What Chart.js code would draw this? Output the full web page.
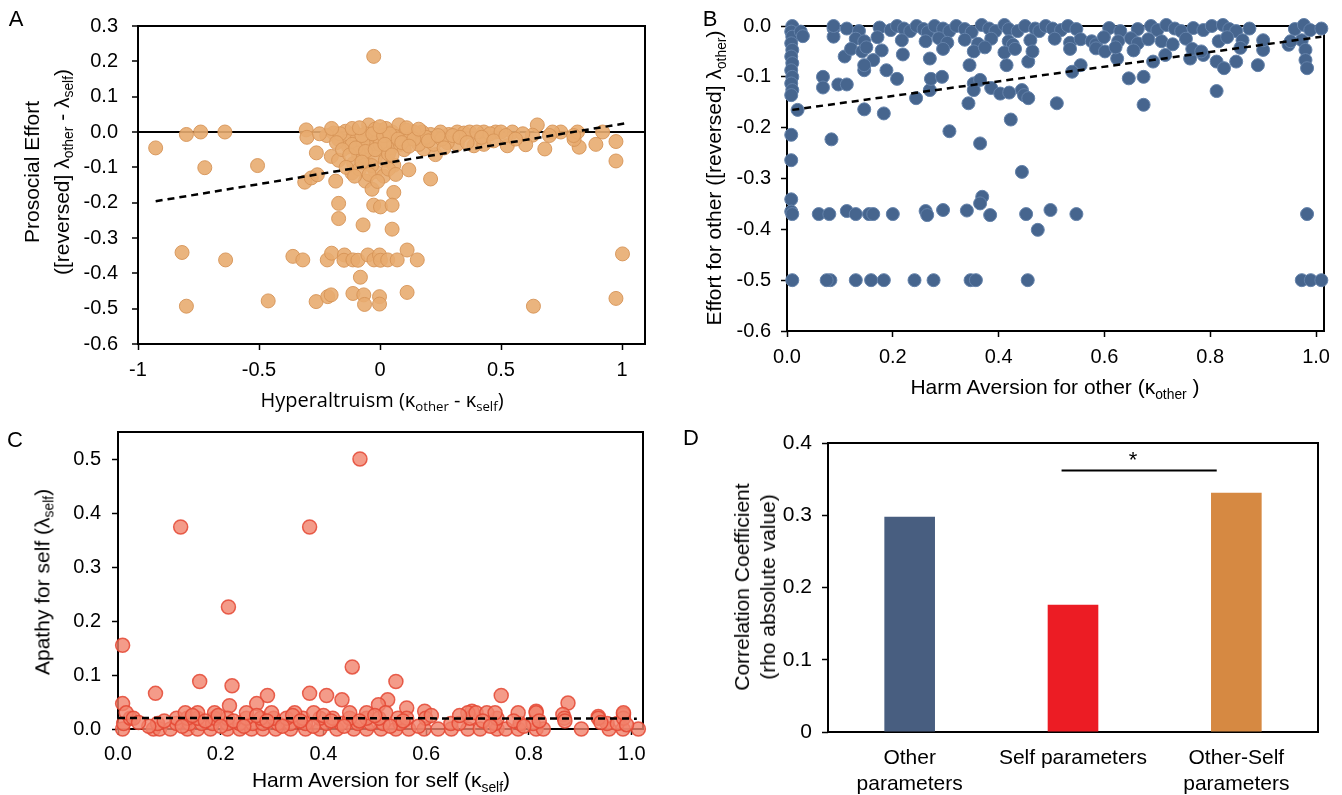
<!DOCTYPE html>
<html>
<head>
<meta charset="utf-8">
<script src="https://cdn.jsdelivr.net/npm/chart.js@4.4.1/dist/chart.umd.min.js"></script>
<style>
  body { margin: 0; background: #fff; width: 1342px; height: 795px; position: relative; overflow: hidden;
         font-family: "Liberation Sans", Arial, sans-serif; color: #000; }
  .panel { position: absolute; }
  .lbl { position: absolute; white-space: nowrap; transform: translate(-50%, -50%); font-size: 21px; line-height: 1.2; text-align: center; }
  .rot { transform: translate(-50%, -50%) rotate(-90deg); }
  .letter { font-size: 22px; }
  sub { font-size: 66%; vertical-align: -0.3em; line-height: 0; }
</style>
</head>
<body>

<div class="panel" style="left:0;top:0"><canvas id="chartA" width="660" height="400"></canvas></div>
<div class="panel" style="left:660px;top:0"><canvas id="chartB" width="682" height="400"></canvas></div>
<div class="panel" style="left:0;top:400px"><canvas id="chartC" width="660" height="395"></canvas></div>
<div class="panel" style="left:660px;top:400px"><canvas id="chartD" width="682" height="395"></canvas></div>

<div class="lbl letter" style="left:16px;top:19px">A</div>
<div class="lbl letter" style="left:710px;top:19px">B</div>
<div class="lbl letter" style="left:15px;top:440px">C</div>
<div class="lbl letter" style="left:691px;top:438px">D</div>

<div class="lbl rot" style="left:47px;top:172px;line-height:30px">Prosocial Effort<br>([reversed] λ<sub>other</sub> - λ<sub>self</sub>)</div>
<div class="lbl" style="left:382px;top:400px;font-family:'Open Sans',sans-serif;font-size:20px">Hyperaltruism (κ<sub>other</sub> - κ<sub>self</sub>)</div>

<div class="lbl rot" style="left:714px;top:178px">Effort for other ([reversed] λ<sub>other</sub>)</div>
<div class="lbl" style="left:1055px;top:387px">Harm Aversion for other (κ<sub>other</sub> )</div>

<div class="lbl rot" style="left:42px;top:582px">Apathy for self (λ<sub>self</sub>)</div>
<div class="lbl" style="left:381px;top:780px">Harm Aversion for self (κ<sub>self</sub>)</div>

<div class="lbl rot" style="left:755px;top:587px;line-height:26px">Correlation Coefficient<br>(rho absolute value)</div>
<div class="lbl" style="left:1133px;top:460px;font-size:22px">*</div>

<script>
// ---- A: hyperaltruism vs prosocial effort ----
const aPoints = [
  [-0.927,-0.045],[-0.80,-0.007],[-0.741,0.0],[-0.641,0.0],[-0.724,-0.101],[-0.506,-0.095],
  [-0.305,0.006],[-0.302,-0.015],[-0.263,-0.059],[-0.201,-0.069],[-0.171,-0.08],
  [-0.311,-0.142],[-0.284,-0.13],[-0.259,-0.121],[-0.183,-0.139],[-0.171,-0.202],[-0.171,-0.245],[-0.07,-0.263],
  [-0.818,-0.341],[-0.638,-0.362],[-0.36,-0.352],[-0.319,-0.362],[-0.218,-0.362],[-0.2,-0.343],[-0.147,-0.348],
  [-0.149,-0.363],[-0.112,-0.362],[-0.091,-0.363],[-0.05,-0.348],[-0.025,-0.362],[-0.002,-0.348],[0.002,-0.363],
  [0.032,-0.362],[0.071,-0.362],[0.112,-0.334],[0.154,-0.362],[-0.081,-0.411],
  [-0.80,-0.493],[-0.462,-0.478],[-0.264,-0.48],[-0.216,-0.466],[-0.202,-0.461],[-0.112,-0.457],[-0.067,-0.461],
  [-0.064,-0.488],[-0.002,-0.466],[-0.002,-0.487],[0.112,-0.454],[0.634,-0.493],[0.975,-0.471],[1.002,-0.345],
  [-0.192,-0.003],[-0.143,0.002],[-0.102,-0.003],[-0.047,0.02],[0.002,0.004],[0.05,0],[-0.171,-0.021],[-0.13,-0.025],
  [-0.095,-0.021],[-0.047,-0.016],[-0.005,-0.021],[0.036,-0.025],[-0.13,-0.042],[-0.081,-0.048],[-0.04,-0.044],
  [0.009,-0.053],[0.05,-0.044],[-0.109,-0.089],[-0.06,-0.08],[-0.019,-0.071],[0.022,-0.08],[0.057,-0.094],
  [-0.116,-0.116],[-0.06,-0.139],[-0.033,-0.162],[-0.019,-0.112],[0.015,-0.125],[0.057,-0.171],[-0.026,-0.207],
  [0.002,-0.212],[0.05,-0.207],[0.05,-0.275],[-0.22,-0.01],[-0.165,-0.005],[-0.06,-0.005],[-0.02,0.008],[0.025,0.01],
  [-0.115,-0.035],[-0.07,-0.03],[0.0,-0.035],[-0.09,-0.06],[-0.035,-0.095],[0.035,-0.062],[-0.085,-0.105],[-0.045,-0.12],
  [-0.026,0.214],
  [0.078,0.02],[0.098,-0.007],[0.119,-0.107],[0.209,-0.133],[0.975,-0.082],[0.975,-0.027],[0.892,-0.035],
  [0.823,-0.043],[0.802,-0.021],[0.816,0],[0.747,0],[0.713,0],[0.92,0],[0.681,-0.048],[0.65,0.02],[0.63,-0.009],
  [0.602,-0.036],[0.526,-0.039],[0.547,0],[0.478,0],[0.429,0],[0.388,-0.039],[0.319,0],[0.284,-0.007],[0.25,0],
  [0.209,-0.007],[0.174,0],[0.14,0],[0.229,-0.064],[0.181,-0.048],[0.429,-0.035],[0.347,-0.003],[0.319,-0.035],
  [0.16,-0.035],[0.222,-0.035],[0.084,-0.035],[0.278,-0.03],[0.37,0],[0.4,0],[0.455,-0.005],[0.5,0],[0.59,-0.005],
  [0.11,0.005],[0.19,-0.015],[0.255,-0.02],[0.3,-0.01],[0.12,-0.02],[0.06,-0.012],[0.1,-0.05],
  [-0.18,-0.03],[-0.155,-0.05],[-0.125,-0.065],[-0.1,-0.045],[-0.075,-0.01],[-0.03,-0.005],[0.015,-0.01],
  [0.04,-0.005],[0.075,-0.02],[0.09,-0.03],[-0.06,-0.055],[-0.02,-0.05],[0.02,-0.035],[-0.14,-0.1],[-0.105,-0.125],
  [-0.075,-0.085],[-0.01,-0.14],[0.035,-0.105],[0.065,-0.12],[0.14,-0.02],[0.2,-0.025],[0.24,-0.01],[0.33,-0.015],
  [0.36,-0.03],[0.42,-0.015],[0.47,-0.025],[0.52,-0.01],[0.56,-0.02],[0.265,-0.045],[0.12,-0.04],[0.05,-0.065],
  [-0.25,-0.005],[-0.2,0.01],[-0.115,0.01],[-0.085,0.012],[0.0,0.015],[0.11,0.012],[0.16,0.008],[0.7,-0.01],[0.8,-0.01]
];
const aFitX = [-0.927, 1.009];
const aFitY = [-0.196, 0.024];
const aXTicks = [-1, -0.5, 0, 0.5, 1];
const aYTicks = [-0.6, -0.5, -0.4, -0.3, -0.2, -0.1, 0, 0.1, 0.2, 0.3];

// ---- B: harm aversion for other vs effort for other ----
const bPoints = [
  [0.01,0],[0.008,-0.011],[0.01,-0.021],[0.008,-0.034],[0.01,-0.047],[0.008,-0.06],[0.01,-0.073],[0.008,-0.087],
  [0.01,-0.1],[0.008,-0.113],[0.01,-0.126],[0.008,-0.136],[0.008,-0.214],[0.008,-0.264],[0.008,-0.341],
  [0.008,-0.365],[0.01,-0.37],[0.01,-0.5],[0.02,-0.165],[0.026,-0.011],[0.03,-0.02],
  [0.088,-0.005],[0.088,-0.021],[0.109,-0.06],[0.068,-0.1],[0.068,-0.121],[0.097,-0.115],[0.113,-0.115],
  [0.084,-0.223],[0.06,-0.37],[0.08,-0.37],[0.082,-0.5],[0.075,-0.5],[0.113,-0.364],[0.13,-0.37],[0.13,-0.5],
  [0.155,-0.37],[0.163,-0.37],[0.159,-0.5],[0.183,-0.5],[0.2,-0.37],[0.146,-0.164],[0.183,-0.172],[0.241,-0.5],
  [0.262,-0.364],[0.265,-0.372],[0.277,-0.5],[0.295,-0.362],[0.307,-0.207],[0.34,-0.363],[0.347,-0.5],[0.357,-0.5],
  [0.369,-0.336],[0.365,-0.349],[0.384,-0.372],[0.365,-0.231],[0.444,-0.287],[0.452,-0.37],[0.455,-0.5],
  [0.498,-0.362],[0.474,-0.401],[0.547,-0.37],[0.423,-0.184],[0.343,-0.152],[0.51,-0.152],[0.674,-0.155],
  [0.812,-0.128],[0.983,-0.37],[0.973,-0.5],[0.99,-0.5],[1.01,-0.5],[0.646,-0.103],[0.674,-0.1],[0.244,-0.142],
  [0.27,-0.126],[0.272,-0.104],[0.293,-0.1],[0.208,-0.104],[0.188,-0.087],[0.163,-0.067],[0.146,-0.087],
  [0.146,-0.077],[0.219,-0.056],[0.27,-0.064],[0.353,-0.113],[0.353,-0.126],[0.365,-0.106],[0.386,-0.122],
  [0.403,-0.133],[0.42,-0.131],[0.444,-0.126],[0.448,-0.136],[0.456,-0.142],[0.345,-0.077],[0.415,-0.077],
  [0.456,-0.07],[0.555,-0.077],[0.539,-0.09],[0.624,-0.064],[0.692,-0.07],[0.715,-0.057],[0.762,-0.064],
  [0.787,-0.057],[0.812,-0.07],[0.826,-0.083],[0.849,-0.07],[0.89,-0.077],[0.9,-0.047],[0.9,-0.028],
  [0.973,-0.028],[0.98,-0.047],[0.98,-0.067],[0.983,-0.083],[0.948,-0.037],
  [0.088,0],[0.113,-0.005],[0.136,-0.01],[0.175,-0.003],[0.196,-0.008],[0.208,0],[0.221,-0.005],[0.233,-0.01],
  [0.245,0],[0.258,-0.006],[0.266,-0.012],[0.279,0],[0.295,-0.005],[0.307,-0.01],[0.32,0],[0.336,-0.006],
  [0.349,-0.012],[0.368,0.002],[0.382,-0.005],[0.394,-0.01],[0.411,0.002],[0.419,-0.006],[0.436,-0.01],
  [0.45,0],[0.469,-0.005],[0.477,-0.01],[0.489,0],[0.502,-0.005],[0.518,-0.008],[0.531,0],[0.547,-0.006],
  [0.609,-0.004],[0.63,-0.01],[0.663,-0.006],[0.688,0],[0.7,-0.008],[0.717,0.002],[0.733,-0.005],[0.745,-0.01],
  [0.768,-0.004],[0.787,-0.008],[0.803,0],[0.824,0.002],[0.836,-0.006],[0.849,-0.01],[0.874,-0.005],
  [0.96,-0.006],[0.977,0.002],[0.989,-0.008],[1.01,-0.005],
  [0.13,-0.025],[0.146,-0.03],[0.171,-0.022],[0.217,-0.028],[0.262,-0.03],[0.287,-0.024],[0.303,-0.033],
  [0.336,-0.027],[0.361,-0.035],[0.386,-0.025],[0.419,-0.03],[0.427,-0.037],[0.46,-0.028],[0.506,-0.025],
  [0.535,-0.033],[0.555,-0.026],[0.576,-0.03],[0.584,-0.036],[0.599,-0.022],[0.626,-0.03],[0.65,-0.024],
  [0.663,-0.034],[0.683,-0.026],[0.708,-0.03],[0.729,-0.036],[0.754,-0.025],[0.816,-0.03],[0.832,-0.022],
  [0.861,-0.028],[0.952,-0.03],
  [0.121,-0.045],[0.142,-0.05],[0.15,-0.042],[0.179,-0.048],[0.295,-0.045],[0.353,-0.05],[0.374,-0.042],
  [0.411,-0.052],[0.431,-0.045],[0.464,-0.05],[0.535,-0.045],[0.584,-0.044],[0.601,-0.05],[0.621,-0.042],
  [0.655,-0.048],[0.766,-0.045],[0.783,-0.05],[0.857,-0.043]
];
const bFitX = [0.01, 1.01];
const bFitY = [-0.165, -0.021];
const bXTicks = [0, 0.2, 0.4, 0.6, 0.8, 1.0];
const bYTicks = [-0.6, -0.5, -0.4, -0.3, -0.2, -0.1, 0];

// ---- C: harm aversion for self vs apathy for self ----
const cPoints = [
  [0.471,0.5],[0.122,0.374],[0.373,0.374],[0.215,0.226],[0.009,0.155],[0.456,0.115],[0.159,0.088],[0.541,0.088],
  [0.222,0.08],[0.073,0.066],[0.291,0.062],[0.373,0.066],[0.406,0.062],[0.436,0.054],[0.746,0.062],[0.876,0.048],
  [0.525,0.054],[0.507,0.045],[0.009,0.047],[0.217,0.043],[0.27,0.047],[0.597,0.033],[0.814,0.033],[0.689,0.033],
  [0.562,0.039],[0.935,0.023],[0.984,0.027],[0.866,0.027],
  [0.009,0],[0.069,0],[0.081,0],[0.102,0],[0.135,0],[0.155,0],[0.18,0],[0.213,0],[0.237,0],[0.26,0],[0.282,0],
  [0.307,0],[0.336,0],[0.365,0],[0.393,0],[0.426,0],[0.459,0],[0.484,0],[0.512,0],[0.541,0],[0.566,0],[0.596,0],
  [0.623,0],[0.649,0],[0.681,0],[0.705,0],[0.738,0],[0.755,0],[0.779,0],[0.814,0],[0.828,0],[0.902,0],[0.956,0],
  [0.983,0],[1.013,0],
  [0.011,0.01],[0.077,0.01],[0.114,0.01],[0.139,0.01],[0.163,0.01],[0.184,0.01],[0.213,0.01],[0.237,0.01],
  [0.262,0.01],[0.282,0.01],[0.311,0.01],[0.336,0.01],[0.365,0.01],[0.406,0.01],[0.434,0.01],[0.467,0.01],
  [0.492,0.01],[0.516,0.01],[0.549,0.01],[0.648,0.01],[0.664,0.01],[0.734,0.01],[0.783,0.01],[0.808,0.01],
  [0.952,0.01],[0.972,0.01],
  [0.024,0.02],[0.114,0.02],[0.135,0.02],[0.155,0.02],[0.188,0.02],[0.213,0.02],[0.25,0.02],[0.278,0.02],
  [0.303,0.02],[0.328,0.02],[0.36,0.02],[0.393,0.02],[0.418,0.02],[0.451,0.02],[0.484,0.02],[0.508,0.02],
  [0.545,0.02],[0.562,0.02],[0.599,0.02],[0.685,0.02],[0.738,0.02],[0.869,0.02],[0.935,0.02],[0.984,0.02],
  [0.016,0.03],[0.131,0.03],[0.155,0.03],[0.188,0.03],[0.25,0.03],[0.299,0.03],[0.344,0.03],[0.381,0.03],
  [0.451,0.03],[0.484,0.03],[0.521,0.03],[0.681,0.03],[0.697,0.03],[0.718,0.03],[0.734,0.03],[0.779,0.03],
  [0.814,0.03],[0.984,0.03],
  [0.06,0.005],[0.09,0.015],[0.125,0.005],[0.145,0.025],[0.17,0.015],[0.195,0.025],[0.2,0.005],[0.225,0.015],
  [0.245,0.005],[0.27,0.025],[0.29,0.015],[0.32,0.005],[0.34,0.025],[0.355,0.015],[0.38,0.005],[0.4,0.025],
  [0.415,0.015],[0.44,0.005],[0.47,0.015],[0.5,0.025],[0.53,0.005],[0.555,0.015],[0.585,0.005],[0.61,0.025],
  [0.665,0.025],[0.71,0.015],[0.725,0.005],[0.77,0.015],[0.79,0.005],[0.82,0.015],[0.87,0.015],[0.94,0.012],
  [0.99,0.008],[0.03,0.02],[0.04,0.012]
];
const cFitX = [0, 1.01];
const cFitY = [0.0204, 0.0192];
const cXTicks = [0, 0.2, 0.4, 0.6, 0.8, 1.0];
const cYTicks = [0, 0.1, 0.2, 0.3, 0.4, 0.5];

// ---- D: correlation coefficients ----
const dCategories = [['Other', 'parameters'], 'Self parameters', ['Other-Self', 'parameters']];
const dValues = [0.298, 0.176, 0.331];
const dColors = ['#485E80', '#EC1C24', '#D68942'];
const dYTicks = [0, 0.1, 0.2, 0.3, 0.4];

Chart.defaults.font.family = '"Liberation Sans", Arial, sans-serif';
Chart.defaults.color = '#000';

// box round the plot area, drawn under the points
const frame = {
  id: 'frame',
  beforeDatasetsDraw(chart) {
    const { ctx, chartArea: a } = chart;
    ctx.save();
    ctx.strokeStyle = '#000';
    ctx.lineWidth = 2;
    ctx.strokeRect(a.left, a.top, a.right - a.left, a.bottom - a.top);
    ctx.restore();
  }
};

function axis(min, max, ticks, fmt, size, pad, opts) {
  return Object.assign({
    type: 'linear', min: min, max: max,
    afterBuildTicks: s => { s.ticks = ticks.map(v => ({ value: v })); },
    ticks: { callback: fmt, font: { size: 20 }, padding: pad, color: '#000' },
    grid: { drawOnChartArea: false, tickLength: 6, tickColor: '#000', tickWidth: 1.5 },
    border: { display: false },
    afterFit: s => { if (s.isHorizontal()) s.height = size; else s.width = size; }
  }, opts || {});
}

function scatterChart(id, pts, fitX, fitY, look, geo) {
  new Chart(document.getElementById(id), {
    type: 'scatter',
    data: {
      datasets: [
        { type: 'line', data: fitX.map((x, i) => ({ x: x, y: fitY[i] })), borderColor: '#000',
          borderWidth: 2.5, borderDash: [7, 5], pointRadius: 0, fill: false, order: 0, clip: false },
        { data: pts.map(p => ({ x: p[0], y: p[1] })), backgroundColor: look.fill, borderColor: look.edge,
          borderWidth: look.edgeW, pointRadius: look.r, pointHoverRadius: look.r, order: 1, clip: false }
      ]
    },
    options: {
      responsive: false, animation: false, events: [],
      layout: { padding: { top: geo.top, right: geo.right, left: 0, bottom: 0 } },
      plugins: { legend: { display: false }, tooltip: { enabled: false } },
      scales: {
        x: axis(geo.xMin, geo.xMax, geo.xTicks, geo.xFmt, geo.xH, geo.xPad),
        y: axis(geo.yMin, geo.yMax, geo.yTicks, v => v.toFixed(1), geo.yW, geo.yPad, geo.zeroLine ? {
          grid: { drawOnChartArea: true, tickLength: 6, tickColor: '#000', tickWidth: 1.5, lineWidth: 2,
                  color: c => (c.tick && c.tick.value === 0) ? '#000' : 'rgba(0,0,0,0)' }
        } : null)
      }
    },
    plugins: [frame]
  });
}

scatterChart('chartA', aPoints, aFitX, aFitY,
  { fill: 'rgba(232,172,112,0.9)', edge: 'rgba(214,148,86,0.9)', edgeW: 1, r: 7 },
  { top: 15, right: 15, xMin: -1, xMax: 1.095, yMin: -0.6, yMax: 0.3, xTicks: aXTicks, yTicks: aYTicks,
    xFmt: v => String(v), xH: 56, xPad: 8, yW: 138, yPad: 14, zeroLine: true });

scatterChart('chartB', bPoints, bFitX, bFitY,
  { fill: '#46658E', edge: '#6482AA', edgeW: 1, r: 6.5 },
  { top: 26, right: 18, xMin: 0, xMax: 1.015, yMin: -0.6, yMax: 0, xTicks: bXTicks, yTicks: bYTicks,
    xFmt: v => v.toFixed(1), xH: 69, xPad: 8, yW: 127, yPad: 10, zeroLine: false });

scatterChart('chartC', cPoints, cFitX, cFitY,
  { fill: 'rgba(241,130,108,0.8)', edge: 'rgba(228,72,52,0.85)', edgeW: 1.5, r: 7 },
  { top: 32, right: 17, xMin: 0, xMax: 1.022, yMin: 0, yMax: 0.55, xTicks: cXTicks, yTicks: cYTicks,
    xFmt: v => v.toFixed(1), xH: 66, xPad: 7, yW: 118, yPad: 11, zeroLine: false });

// significance bracket between Self and Other-Self
const sigLine = {
  id: 'sigLine',
  afterDatasetsDraw(chart) {
    const x = chart.scales.x, y = chart.scales.y, ctx = chart.ctx;
    const py = y.getPixelForValue(0.362);
    ctx.save();
    ctx.strokeStyle = '#000';
    ctx.lineWidth = 2;
    ctx.beginPath();
    ctx.moveTo(x.getPixelForValue(0.93), py);
    ctx.lineTo(x.getPixelForValue(1.88), py);
    ctx.stroke();
    ctx.restore();
  }
};

new Chart(document.getElementById('chartD'), {
  type: 'bar',
  data: {
    labels: dCategories,
    datasets: [{ data: dValues, backgroundColor: dColors, barPercentage: 0.31, categoryPercentage: 1 }]
  },
  options: {
    responsive: false, animation: false, events: [],
    layout: { padding: { top: 43, right: 24, left: 0, bottom: 0 } },
    plugins: { legend: { display: false }, tooltip: { enabled: false } },
    scales: {
      x: {
        grid: { display: false }, border: { display: false },
        ticks: { font: { size: 21, lineHeight: 1.2 }, padding: 6, color: '#000', maxRotation: 0, autoSkip: false },
        afterFit: s => { s.height = 63; }
      },
      y: axis(0, 0.4, dYTicks, v => v === 0 ? '0' : v.toFixed(1), 168, 10, {
        ticks: { callback: v => v === 0 ? '0' : v.toFixed(1), font: { size: 21 }, padding: 10, color: '#000' }
      })
    }
  },
  plugins: [frame, sigLine]
});
</script>
</body>
</html>
